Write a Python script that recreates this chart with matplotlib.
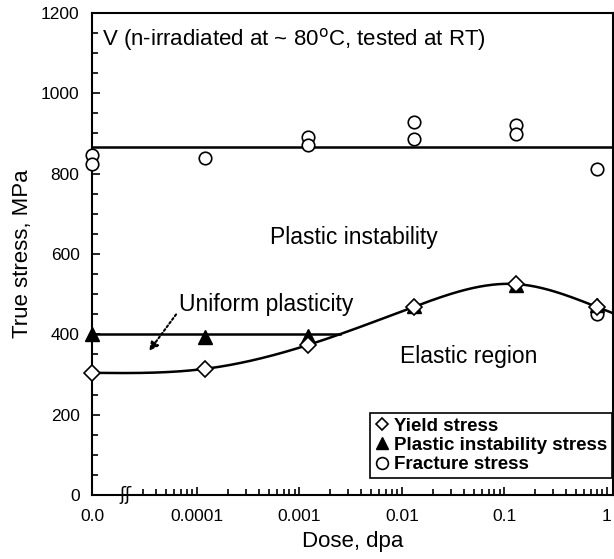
import matplotlib
matplotlib.use("Agg")
import matplotlib.pyplot as plt
from matplotlib.lines import Line2D
from matplotlib.ticker import FixedLocator, NullFormatter
import numpy as np

plt.rcParams['font.family'] = ['Liberation Sans', 'DejaVu Sans']

# dose 0 is drawn at the left end of the broken log axis
zero_pos = 9.5e-6
dose = [zero_pos, 1.2e-4, 1.2e-3, 1.3e-2, 0.13, 0.8]

yield_stress = [304, 314, 373, 468, 525, 468]
instab_dose = [zero_pos, 1.2e-4, 1.2e-3, 1.3e-2, 0.13, 0.8]
instab_stress = [400, 392, 395, 470, 523, 472]
fract_dose = [zero_pos, zero_pos, 1.2e-4, 1.2e-3, 1.2e-3, 1.3e-2, 1.3e-2,
              0.13, 0.13, 0.8, 0.8]
fract_stress = [845, 825, 838, 892, 872, 928, 885, 922, 898, 812, 450]

fracture_level = 865
uniform_limit = 400

tick_pos = [zero_pos, 1e-4, 1e-3, 1e-2, 1e-1, 1]
tick_lab = ['0.0', '0.0001', '0.001', '0.01', '0.1', '1']
x_max = 1.14


def natural_spline(xk, yk, xs):
    xk = np.asarray(xk, float)
    yk = np.asarray(yk, float)
    n = len(xk)
    h = np.diff(xk)
    A = np.zeros((n, n))
    r = np.zeros(n)
    A[0, 0] = A[-1, -1] = 1
    for i in range(1, n - 1):
        A[i, i - 1] = h[i - 1]
        A[i, i] = 2 * (h[i - 1] + h[i])
        A[i, i + 1] = h[i]
        r[i] = 3 * ((yk[i + 1] - yk[i]) / h[i] - (yk[i] - yk[i - 1]) / h[i - 1])
    c = np.linalg.solve(A, r)
    b = (yk[1:] - yk[:-1]) / h - h * (2 * c[:-1] + c[1:]) / 3
    d = (c[1:] - c[:-1]) / (3 * h)
    idx = np.clip(np.searchsorted(xk, xs) - 1, 0, n - 2)
    t = xs - xk[idx]
    return yk[idx] + b[idx] * t + c[idx] * t ** 2 + d[idx] * t ** 3


fig = plt.figure(figsize=(6.14, 5.59), dpi=100)
ax = fig.add_axes([0.150, 0.1145, 0.848, 0.8625])
ax.set_xscale('log')

# smooth yield curve in log(dose)
u = np.linspace(np.log10(zero_pos), np.log10(x_max), 400)
curve = natural_spline(np.log10(dose), yield_stress, u)
ax.plot(10 ** u, curve, color='black', lw=1.8, zorder=3)

# uniform plasticity limit, up to where it meets the yield curve
cross = np.where((curve >= uniform_limit) & (u > -3.5))[0][0]
ax.plot([zero_pos, 10 ** u[cross]], [uniform_limit, uniform_limit],
        color='black', lw=1.8, zorder=3)
ax.axhline(fracture_level, color='black', lw=1.8, zorder=3)

ax.plot(fract_dose, fract_stress, 'o', ms=9, mfc='white', mec='black',
        mew=1.2, clip_on=False, zorder=4)
ax.plot(instab_dose, instab_stress, '^', ms=10, color='black',
        clip_on=False, zorder=5)
ax.plot(dose, yield_stress, 'D', ms=8, mfc='white', mec='black',
        mew=1.2, clip_on=False, zorder=6)

ax.set_xlim(zero_pos, x_max)
ax.set_ylim(0, 1200)
ax.set_xticks(tick_pos)
ax.set_xticklabels(tick_lab)
minor = [k * 10.0 ** e for e in range(-5, 1) for k in range(2, 10)]
minor = [m for m in minor if 2.8e-5 < m < x_max]
ax.xaxis.set_minor_locator(FixedLocator(minor))
ax.xaxis.set_minor_formatter(NullFormatter())
ax.set_yticks(np.arange(0, 1201, 200))
ax.yaxis.set_minor_locator(FixedLocator(np.arange(0, 1201, 50)))

ax.tick_params(which='both', direction='in', top=False, right=False,
               labelsize=12.5, width=1.2)
ax.tick_params(axis='x', pad=10)
ax.tick_params(axis='y', pad=9)
ax.tick_params(which='major', length=6)
ax.tick_params(which='minor', length=4)
for s in ax.spines.values():
    s.set_linewidth(1.5)

ax.set_xlabel('Dose, dpa', fontsize=16, labelpad=5)
ax.set_ylabel('True stress, MPa', fontsize=16, labelpad=6)

# axis break mark
ax.text(2.0e-5, 0, 'ʃʃ', fontsize=13, ha='center', va='center',
        clip_on=False, family='DejaVu Sans')

ax.text(0.019, 0.944, 'V (n-irradiated at ~ 80$^{\\rm o}$C, tested at RT)',
        transform=ax.transAxes, fontsize=16, ha='left', va='center')
ax.text(3.4e-3, 642, 'Plastic instability', fontsize=16.5,
        ha='center', va='center')
ax.text(4.7e-4, 475, 'Uniform plasticity', fontsize=16.5,
        ha='center', va='center')
ax.text(0.045, 344, 'Elastic region', fontsize=16.5, ha='center', va='center')
ax.annotate('', xy=(3.3e-5, 353), xytext=(6.5e-5, 455),
            arrowprops=dict(arrowstyle='-|>', linestyle=(0, (1, 1.2)), lw=1.5,
                            color='black', mutation_scale=13))

handles = [
    Line2D([], [], ls='none', marker='D', ms=6.5, mfc='white', mec='black', mew=1.2),
    Line2D([], [], ls='none', marker='^', ms=8.5, color='black'),
    Line2D([], [], ls='none', marker='o', ms=8.5, mfc='white', mec='black', mew=1.2),
]
leg = ax.legend(handles, ['Yield stress', 'Plastic instability stress',
                          'Fracture stress'],
                loc='lower right', bbox_to_anchor=(0.998, 0.035),
                prop={'weight': 'bold', 'size': 13.5}, frameon=True,
                fancybox=False, edgecolor='black', framealpha=1,
                handlelength=0.7, handletextpad=0.3, labelspacing=0.12,
                borderpad=0.25, borderaxespad=0)
leg.get_frame().set_linewidth(1.2)

fig.savefig('out.png', dpi=100)
